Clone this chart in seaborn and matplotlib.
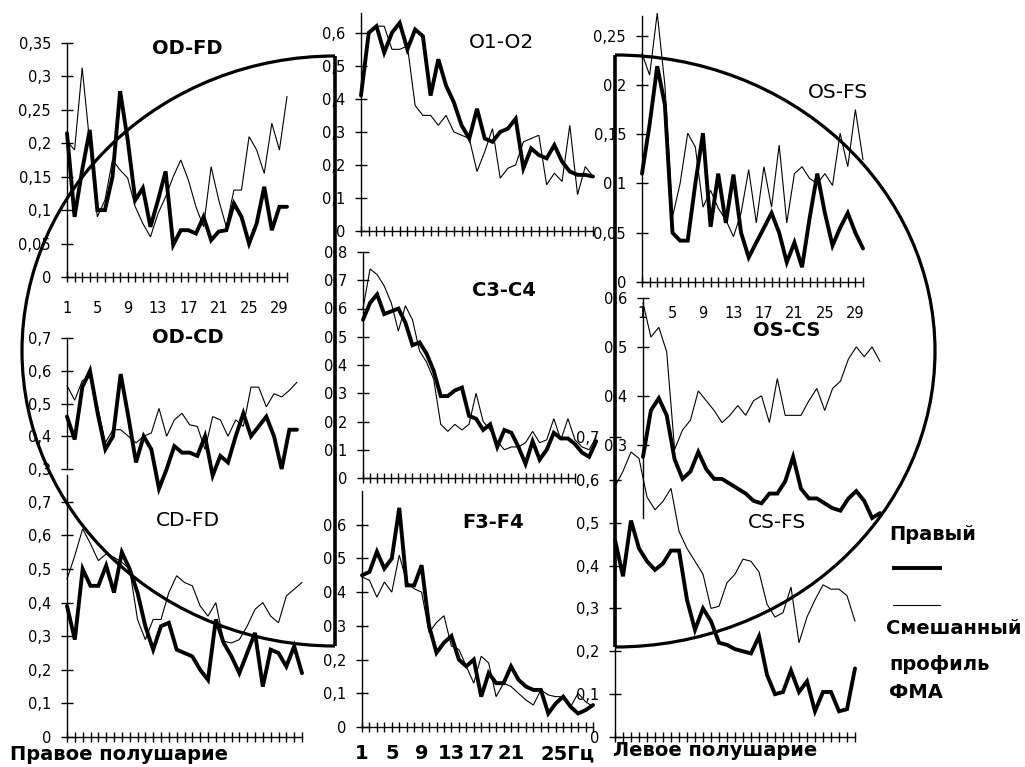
import numpy as np
import pandas as pd
import matplotlib
matplotlib.use("Agg")
import matplotlib.pyplot as plt
import seaborn as sns
from matplotlib.patches import Arc

# ---------------- data ----------------
od_fd_right = [0.215, 0.09, 0.16, 0.22, 0.10, 0.10, 0.15, 0.278, 0.205, 0.115, 0.133, 0.075, 0.115, 0.158, 0.048,
               0.07, 0.07, 0.065, 0.09, 0.055, 0.068, 0.07, 0.11, 0.09, 0.05, 0.08, 0.135, 0.07, 0.105, 0.105]
od_fd_mixed = [0.203, 0.19, 0.313, 0.20, 0.09, 0.115, 0.175, 0.16, 0.148, 0.105, 0.08, 0.06, 0.095, 0.12, 0.15,
               0.175, 0.145, 0.105, 0.075, 0.165, 0.115, 0.075, 0.13, 0.13, 0.21, 0.19, 0.155, 0.23, 0.19, 0.27]

od_cd_right = [0.46, 0.39, 0.55, 0.60, 0.47, 0.36, 0.40, 0.59, 0.46, 0.32, 0.40, 0.36, 0.24, 0.30, 0.37, 0.35,
               0.35, 0.34, 0.40, 0.28, 0.34, 0.32, 0.40, 0.47, 0.40, 0.43, 0.46, 0.40, 0.30, 0.42, 0.42]
od_cd_mixed = [0.555, 0.51, 0.57, 0.58, 0.49, 0.38, 0.42, 0.42, 0.40, 0.38, 0.40, 0.41, 0.485, 0.40, 0.45, 0.47,
               0.435, 0.43, 0.36, 0.46, 0.45, 0.40, 0.45, 0.43, 0.55, 0.55, 0.49, 0.53, 0.52, 0.54, 0.565]

cd_fd_right = [0.39, 0.29, 0.50, 0.45, 0.45, 0.51, 0.43, 0.55, 0.50, 0.43, 0.33, 0.26, 0.33, 0.34, 0.26, 0.25,
               0.24, 0.20, 0.17, 0.35, 0.28, 0.24, 0.19, 0.25, 0.31, 0.15, 0.26, 0.25, 0.21, 0.27, 0.19]
cd_fd_mixed = [0.47, 0.54, 0.62, 0.575, 0.525, 0.545, 0.535, 0.52, 0.50, 0.35, 0.29, 0.35, 0.35, 0.43, 0.48, 0.46,
               0.45, 0.39, 0.36, 0.40, 0.285, 0.28, 0.29, 0.33, 0.38, 0.40, 0.36, 0.34, 0.42, 0.44, 0.46]

o1_o2_right = [0.41, 0.60, 0.62, 0.54, 0.60, 0.63, 0.55, 0.61, 0.59, 0.41, 0.52, 0.44, 0.39, 0.32, 0.28, 0.37,
               0.28, 0.27, 0.30, 0.31, 0.34, 0.19, 0.25, 0.23, 0.22, 0.26, 0.21, 0.18, 0.17, 0.17, 0.165]
o1_o2_mixed = [0.41, 0.60, 0.62, 0.62, 0.55, 0.55, 0.56, 0.38, 0.35, 0.35, 0.32, 0.35, 0.30, 0.29, 0.28, 0.18,
               0.24, 0.31, 0.16, 0.19, 0.20, 0.27, 0.28, 0.29, 0.14, 0.175, 0.15, 0.32, 0.11, 0.195, 0.165]

c3_c4_right = [0.56, 0.62, 0.65, 0.58, 0.59, 0.60, 0.55, 0.47, 0.48, 0.44, 0.38, 0.29, 0.29, 0.31, 0.32, 0.22,
               0.21, 0.17, 0.19, 0.11, 0.17, 0.16, 0.11, 0.05, 0.13, 0.065, 0.10, 0.16, 0.14, 0.14, 0.12, 0.09,
               0.075, 0.13]
c3_c4_mixed = [0.60, 0.74, 0.72, 0.68, 0.62, 0.52, 0.61, 0.56, 0.45, 0.41, 0.35, 0.19, 0.165, 0.19, 0.17, 0.19,
               0.30, 0.20, 0.17, 0.13, 0.10, 0.11, 0.11, 0.125, 0.165, 0.125, 0.135, 0.21, 0.135, 0.21, 0.135,
               0.11, 0.10, 0.145]

f3_f4_right = [0.45, 0.46, 0.52, 0.47, 0.50, 0.65, 0.42, 0.42, 0.48, 0.30, 0.22, 0.25, 0.27, 0.20, 0.18, 0.20,
               0.09, 0.16, 0.13, 0.13, 0.18, 0.14, 0.12, 0.11, 0.11, 0.04, 0.07, 0.09, 0.06, 0.04, 0.05, 0.065]
f3_f4_mixed = [0.445, 0.435, 0.385, 0.43, 0.40, 0.51, 0.43, 0.41, 0.40, 0.28, 0.31, 0.33, 0.24, 0.23, 0.18, 0.13,
               0.21, 0.19, 0.09, 0.13, 0.12, 0.10, 0.08, 0.065, 0.11, 0.095, 0.09, 0.09, 0.06, 0.10, 0.075, 0.06]

os_fs_right = [0.11, 0.16, 0.219, 0.18, 0.05, 0.042, 0.042, 0.10, 0.151, 0.056, 0.11, 0.06, 0.109, 0.05, 0.025,
               0.04, 0.055, 0.07, 0.05, 0.02, 0.04, 0.015, 0.065, 0.11, 0.07, 0.037, 0.055, 0.07, 0.05, 0.034]
os_fs_mixed = [0.232, 0.21, 0.273, 0.20, 0.066, 0.10, 0.151, 0.137, 0.076, 0.093, 0.075, 0.063, 0.046, 0.07, 0.114,
               0.06, 0.117, 0.076, 0.139, 0.06, 0.11, 0.117, 0.105, 0.10, 0.11, 0.098, 0.151, 0.117, 0.175, 0.124]

os_cs_right = [0.275, 0.37, 0.395, 0.36, 0.27, 0.23, 0.245, 0.285, 0.25, 0.23, 0.23, 0.22, 0.21, 0.20, 0.185,
               0.18, 0.20, 0.20, 0.225, 0.275, 0.21, 0.19, 0.19, 0.18, 0.17, 0.165, 0.19, 0.205, 0.185, 0.15, 0.16]
os_cs_mixed = [0.59, 0.52, 0.54, 0.49, 0.29, 0.33, 0.35, 0.41, 0.39, 0.37, 0.345, 0.36, 0.38, 0.36, 0.39, 0.40,
               0.345, 0.435, 0.36, 0.36, 0.36, 0.39, 0.415, 0.37, 0.415, 0.43, 0.475, 0.50, 0.48, 0.50, 0.47]

cs_fs_right = [0.46, 0.375, 0.505, 0.44, 0.41, 0.39, 0.405, 0.435, 0.435, 0.32, 0.25, 0.30, 0.27, 0.22, 0.215,
               0.205, 0.20, 0.195, 0.235, 0.145, 0.10, 0.105, 0.155, 0.105, 0.13, 0.06, 0.105, 0.105, 0.06, 0.065,
               0.16]
cs_fs_mixed = [0.585, 0.62, 0.665, 0.65, 0.56, 0.53, 0.55, 0.58, 0.48, 0.44, 0.41, 0.38, 0.30, 0.305, 0.36, 0.38,
               0.415, 0.41, 0.385, 0.31, 0.28, 0.29, 0.35, 0.22, 0.28, 0.32, 0.355, 0.345, 0.345, 0.33, 0.27]

# tick labels
yl_035 = ['0', '0,05', '0,1', '0,15', '0,2', '0,25', '0,3', '0,35']
yl_025 = ['0', '0,05', '0,1', '0,15', '0,2', '0,25']
yl_06 = ['0', '0,1', '0,2', '0,3', '0,4', '0,5', '0,6']
yl_07 = ['0', '0,1', '0,2', '0,3', '0,4', '0,5', '0,6', '0,7']
yl_08 = ['0', '0,1', '0,2', '0,3', '0,4', '0,5', '0,6', '0,7', '0,8']
yl_03_07 = ['0,3', '0,4', '0,5', '0,6', '0,7']
yl_03_06 = ['0,3', '0,4', '0,5', '0,6']
xl_29 = ['1', '5', '9', '13', '17', '21', '25', '29']
xl_hz = ['1', '5', '9', '13', '17', '21', '25Гц']

legend_right = 'Правый'
legend_mixed = ['Смешанный', 'профиль', 'ФМА']
hemi_right = 'Правое полушарие'
hemi_left = 'Левое полушарие'

# ---------------- layout ----------------
W, H = 1025, 767
sns.set_theme(style="white")
plt.rcParams['font.family'] = ['DejaVu Sans']
plt.rcParams['text.color'] = 'black'
plt.rcParams['axes.labelcolor'] = 'black'
plt.rcParams['xtick.color'] = 'black'
plt.rcParams['ytick.color'] = 'black'
plt.rcParams['axes.edgecolor'] = 'black'
fig = plt.figure(figsize=(W / 100, H / 100), dpi=100)
fig.patch.set_facecolor('white')

LW_THICK, LW_THIN = 2.8, 0.8


def yticks_for(labels):
    return [float(s.replace(',', '.')) for s in labels]


panels = [
    dict(t='OD-FD', r=od_fd_right, m=od_fd_mixed, box=(67, 287, 43, 277), xmax=30, ylim=(0, 0.35),
         yl=yl_035, nx=30, xl=xl_29, bottom=True, txy=(187, 49), w='bold'),
    dict(t='OD-CD', r=od_cd_right, m=od_cd_mixed, box=(67, 297, 338, 469), xmax=31, ylim=(0.3, 0.7),
         yl=yl_03_07, nx=0, xl=None, bottom=False, txy=(188, 338), w='bold'),
    dict(t='CD-FD', r=cd_fd_right, m=cd_fd_mixed, box=(67, 302, 475, 737), xmax=31, ylim=(0, 0.78),
         yl=yl_07, nx=31, xl=None, bottom=True, txy=(188, 520), w='normal'),
    dict(t='O1-O2', r=o1_o2_right, m=o1_o2_mixed, box=(361, 593, 13, 231), xmax=31, ylim=(0, 0.66),
         yl=yl_06, nx=31, xl=None, bottom=True, txy=(501, 43), w='normal'),
    dict(t='C3-C4', r=c3_c4_right, m=c3_c4_mixed, box=(363, 575, 252, 478), xmax=31, ylim=(0, 0.8),
         yl=yl_08, nx=31, xl=None, bottom=True, txy=(504, 290), w='bold'),
    dict(t='F3-F4', r=f3_f4_right, m=f3_f4_mixed, box=(362, 593, 491, 727), xmax=32, ylim=(0, 0.7),
         yl=yl_06, nx=32, xl=xl_hz, bottom=True, txy=(493, 522), w='bold'),
    dict(t='OS-FS', r=os_fs_right, m=os_fs_mixed, box=(642, 863, 16, 282), xmax=30, ylim=(0, 0.27),
         yl=yl_025, nx=30, xl=xl_29, bottom=True, txy=(838, 92), w='normal'),
    dict(t='OS-CS', r=os_cs_right, m=os_cs_mixed, box=(643, 880, 298, 518), xmax=31, ylim=(0.15, 0.6),
         yl=yl_03_06, nx=0, xl=None, bottom=False, txy=(787, 331), w='bold'),
    dict(t='CS-FS', r=cs_fs_right, m=cs_fs_mixed, box=(615, 855, 437, 737), xmax=31, ylim=(0, 0.7),
         yl=yl_07, nx=31, xl=None, bottom=True, txy=(777, 523), w='normal'),
]

for p in panels:
    x0, x1, yt, yb = p['box']
    ax = fig.add_axes([x0 / W, 1 - yb / H, (x1 - x0) / W, (yb - yt) / H])
    ax.patch.set_alpha(0)
    df = pd.DataFrame({
        'freq': list(range(1, len(p['r']) + 1)) + list(range(1, len(p['m']) + 1)),
        'val': p['r'] + p['m'],
        'profile': ['right'] * len(p['r']) + ['mixed'] * len(p['m']),
    })
    sns.lineplot(data=df, x='freq', y='val', hue='profile', size='profile',
                 sizes={'right': LW_THICK, 'mixed': LW_THIN},
                 palette={'right': 'black', 'mixed': 'black'},
                 estimator=None, sort=False, legend=False, ax=ax)
    for ln in ax.lines:
        ln.set_clip_on(False)
        ln.set_solid_joinstyle('miter')
    ax.set_xlim(1, p['xmax'])
    ax.set_ylim(*p['ylim'])
    ax.set_xlabel('')
    ax.set_ylabel('')
    for s in ['top', 'right']:
        ax.spines[s].set_visible(False)
    ax.spines['left'].set_color('black')
    ax.spines['left'].set_linewidth(1.0)
    ax.spines['bottom'].set_color('black')
    ax.spines['bottom'].set_linewidth(1.0)
    ax.set_yticks(yticks_for(p['yl']))
    ax.set_yticklabels(p['yl'])
    ax.tick_params(axis='y', direction='inout', length=9, width=1, color='black',
                   labelsize=10.5, pad=7, left=True, labelcolor='black')
    if p['bottom']:
        ax.set_xticks(list(range(1, p['nx'] + 1)))
        ax.tick_params(axis='x', direction='inout', length=7, width=1, color='black', bottom=True,
                       labelcolor='black')
        if p['xl'] is None:
            ax.set_xticklabels([])
        else:
            pos = [int(s.replace('Гц', '')) for s in p['xl']]
            labels = [''] * p['nx']
            for ps, s in zip(pos, p['xl']):
                labels[ps - 1] = s
            ax.set_xticklabels(labels)
            if 'Гц' in p['xl'][-1]:
                ax.tick_params(axis='x', labelsize=14, pad=9)
                for tl in ax.get_xticklabels():
                    tl.set_fontweight('bold')
                    if 'Гц' in tl.get_text():
                        tl.set_horizontalalignment('left')
            else:
                ax.tick_params(axis='x', labelsize=10.5, pad=14)
    else:
        ax.spines['bottom'].set_visible(False)
        ax.set_xticks([])
    fig.text(p['txy'][0] / W, 1 - p['txy'][1] / H, p['t'], ha='center', va='center',
             fontsize=14.5 if p['w'] == 'normal' else 14, fontweight=p['w'], color='black')

# ---------------- overlay: ellipse outlines, legend, captions ----------------
ov = fig.add_axes([0, 0, 1, 1], zorder=10)
ov.set_xlim(0, W)
ov.set_ylim(H, 0)
ov.axis('off')
ov.patch.set_alpha(0)

ellipses = [
    dict(cx=335, cy=351, w=626, h=590, t1=90, t2=270),
    dict(cx=615, cy=351, w=640, h=592, t1=-90, t2=90),
]
for e in ellipses:
    ov.add_patch(Arc((e['cx'], e['cy']), e['w'], e['h'], theta1=e['t1'], theta2=e['t2'],
                     lw=2.3, color='black'))
    ov.plot([e['cx'], e['cx']], [e['cy'] - e['h'] / 2, e['cy'] + e['h'] / 2], color='black', lw=2.6,
            solid_capstyle='butt')

ov.plot([892, 942], [568, 568], color='black', lw=LW_THICK, solid_capstyle='butt')
ov.plot([893, 940], [605, 605], color='black', lw=LW_THIN)
ov.text(889, 535, legend_right, ha='left', va='center', fontsize=14, fontweight='bold', color='black')
ov.text(886, 629, legend_mixed[0], ha='left', va='center', fontsize=14, fontweight='bold', color='black')
ov.text(889, 664, legend_mixed[1], ha='left', va='center', fontsize=14, fontweight='bold', color='black')
ov.text(889, 693, legend_mixed[2], ha='left', va='center', fontsize=14, fontweight='bold', color='black')
ov.text(10, 754, hemi_right, ha='left', va='center', fontsize=14, fontweight='bold', color='black')
ov.text(613, 750, hemi_left, ha='left', va='center', fontsize=14, fontweight='bold', color='black')

fig.savefig('out.png', dpi=100)
